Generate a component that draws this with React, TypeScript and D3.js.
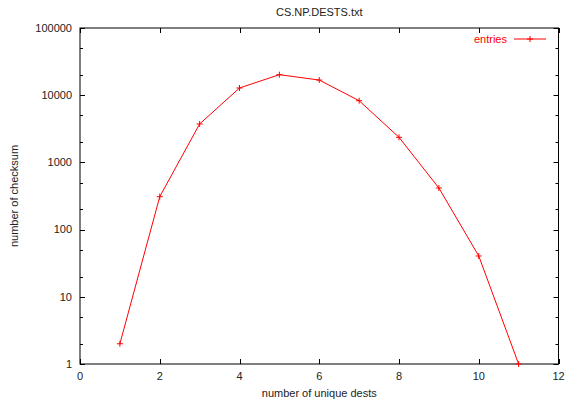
import { useEffect, useRef } from "react";
import * as d3 from "d3";

const destCounts = [1, 2, 3, 4, 5, 6, 7, 8, 9, 10, 11];
const entries = [2, 309, 3730, 12800, 20200, 16800, 8280, 2360, 416, 40.5, 1];
const xTicks = [0, 2, 4, 6, 8, 10, 12];
const yTicks = [1, 10, 100, 1000, 10000, 100000];
const yMinor = [2, 5, 20, 50, 200, 500, 2000, 5000, 20000, 50000];

const W = 566;
const H = 403;
const FONT = "'Liberation Sans', Arial, Helvetica, sans-serif";

const App = () => {
  const svgRef = useRef<SVGSVGElement>(null);

  useEffect(() => {
    const margin = { top: 28, right: 7.5, bottom: 39, left: 80 };
    const width = W - margin.left - margin.right;
    const height = H - margin.top - margin.bottom;

    const svg = d3.select(svgRef.current);
    svg.selectAll("*").remove();

    const g = svg
      .append("g")
      .attr("transform", `translate(${margin.left},${margin.top})`);

    const x = d3.scaleLinear().domain([0, 12]).range([0, width]);
    const y = d3.scaleLog().domain([1, 100000]).range([height, 0]);

    // frame
    g.append("rect")
      .attr("width", width)
      .attr("height", height)
      .attr("fill", "none")
      .attr("stroke", "#000")
      .attr("stroke-width", 1);

    // x ticks (bottom + mirrored on top)
    xTicks.forEach((t) => {
      const px = Math.round(x(t)) + 0.5;
      g.append("line").attr("x1", px).attr("x2", px).attr("y1", height).attr("y2", height - 5).attr("stroke", "#000");
      g.append("line").attr("x1", px).attr("x2", px).attr("y1", 0).attr("y2", 5).attr("stroke", "#000");
      g.append("text")
        .attr("x", x(t))
        .attr("y", height + 16)
        .attr("text-anchor", "middle")
        .attr("font-family", FONT)
        .attr("font-size", 11)
        .attr("fill", "#222")
        .text(t);
    });

    // y major ticks
    yTicks.forEach((t) => {
      const py = Math.round(y(t)) + 0.5;
      g.append("line").attr("x1", 0).attr("x2", 5).attr("y1", py).attr("y2", py).attr("stroke", "#000");
      g.append("line").attr("x1", width).attr("x2", width - 5).attr("y1", py).attr("y2", py).attr("stroke", "#000");
      g.append("text")
        .attr("x", -8)
        .attr("y", y(t))
        .attr("dy", "0.35em")
        .attr("text-anchor", "end")
        .attr("font-family", FONT)
        .attr("font-size", 11)
        .attr("fill", "#222")
        .text(t);
    });

    // y minor ticks
    yMinor.forEach((t) => {
      const py = Math.round(y(t)) + 0.5;
      g.append("line").attr("x1", 0).attr("x2", 3).attr("y1", py).attr("y2", py).attr("stroke", "#000");
      g.append("line").attr("x1", width).attr("x2", width - 3).attr("y1", py).attr("y2", py).attr("stroke", "#000");
    });

    const data = destCounts.map((d, i) => ({ x: d, v: entries[i] }));

    const line = d3
      .line<{ x: number; v: number }>()
      .x((d) => x(d.x))
      .y((d) => y(d.v));

    g.append("path")
      .datum(data)
      .attr("fill", "none")
      .attr("stroke", "#ff0000")
      .attr("stroke-width", 1)
      .attr("d", line);

    const plus = (sel: any, cx: number, cy: number) => {
      sel.append("path")
        .attr("d", `M${cx - 3},${cy}H${cx + 3}M${cx},${cy - 3}V${cy + 3}`)
        .attr("stroke", "#ff0000")
        .attr("stroke-width", 1)
        .attr("fill", "none");
    };

    data.forEach((d) => plus(g, x(d.x), y(d.v)));

    // legend
    const legY = 11;
    g.append("text")
      .attr("x", 427)
      .attr("y", legY)
      .attr("dy", "0.35em")
      .attr("text-anchor", "end")
      .attr("font-family", FONT)
      .attr("font-size", 11)
      .attr("fill", "#ff0000")
      .text("entries");
    g.append("line")
      .attr("x1", 434)
      .attr("x2", 466)
      .attr("y1", legY)
      .attr("y2", legY)
      .attr("stroke", "#ff0000");
    plus(g, 450, legY);

    // title
    svg.append("text")
      .attr("x", margin.left + width / 2)
      .attr("y", 16)
      .attr("text-anchor", "middle")
      .attr("font-family", FONT)
      .attr("font-size", 11)
      .attr("fill", "#222")
      .text("CS.NP.DESTS.txt");

    // axis titles
    svg.append("text")
      .attr("x", margin.left + width / 2)
      .attr("y", 397)
      .attr("text-anchor", "middle")
      .attr("font-family", FONT)
      .attr("font-size", 11)
      .attr("fill", "#222")
      .text("number of unique dests");

    svg.append("text")
      .attr("transform", `translate(18,${margin.top + height / 2}) rotate(-90)`)
      .attr("text-anchor", "middle")
      .attr("font-family", FONT)
      .attr("font-size", 11)
      .attr("fill", "#222")
      .text("number of checksum");
  }, []);

  return (
    <svg
      ref={svgRef}
      width={W}
      height={H}
      style={{ position: "absolute", left: 0, top: 0, background: "#fff" }}
    />
  );
};

export default App;
